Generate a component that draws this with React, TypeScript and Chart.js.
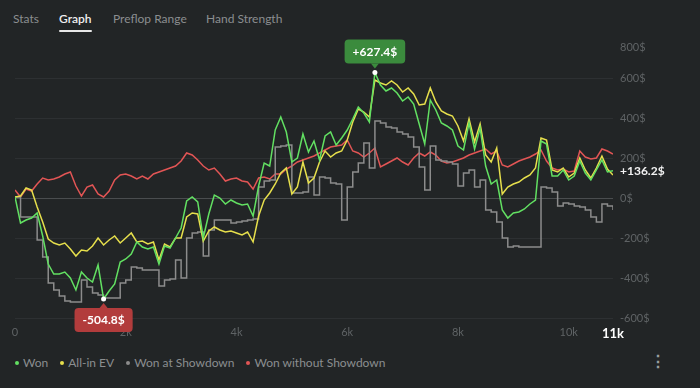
import React, { useEffect, useRef } from "react";
import { Chart, registerables } from "chart.js";

Chart.register(...registerables);

// ---- data ----
const HAND_STEP = 100; // hands between samples
const X_TICKS = [0, 2000, 4000, 6000, 8000, 10000];
const X_MAX = 10800;
const X_END_LABEL = "11k";
const Y_MIN = -600;
const Y_MAX = 800;
const Y_STEP = 200;

const TABS = ["Stats", "Graph", "Preflop Range", "Hand Strength"];
const SERIES_NAMES = ["Won", "All-in EV", "Won at Showdown", "Won without Showdown"];
const SERIES_COLORS = ["#62e062", "#e6df4c", "#8c8c8c", "#e25555"];

const won = [
  5, -125, -110, -100, -75, -190, -330, -380, -380, -370,
  -400, -460, -370, -400, -420, -335, -504.8, -465, -430, -320,
  -305, -280, -220, -245, -255, -245, -330, -240, -250, -200,
  -150, -15, 5, -20, -200, -80, 15, 0, -30, -10,
  -25, -35, -30, -90, 60, 175, 160, 340, 405, 330,
  180, 200, 320, 230, 285, 190, 310, 330, 265, 300,
  340, 395, 455, 425, 380, 627.4, 565, 535, 550, 525,
  485, 505, 470, 370, 270, 490, 440, 375, 360, 340,
  260, 240, 375, 245, 350, 160, 70, 90, -60, -100,
  -75, -70, -55, -30, -10, 285, 270, 110, 110, 140,
  90, 110, 185, 125, 90, 140, 190, 130, 136.2,
];

const allInEV = [
  5, 10, 50, 40, -45, -120, -205, -225, -235, -225,
  -255, -290, -260, -265, -240, -200, -235, -210, -190, -225,
  -200, -175, -220, -215, -230, -220, -310, -230, -245, -200,
  -200, -95, -75, -80, -215, -165, -145, -160, -170, -165,
  -175, -185, -170, -220, -90, -10, 25, 70, 125, 150,
  20, 55, 180, 75, 100, 180, 235, 205, 225, 235,
  290, 380, 445, 430, 405, 590, 575, 565, 585, 565,
  530, 550, 520, 465, 470, 550, 480, 435, 420, 410,
  360, 285, 395, 280, 370, 215, 180, 250, 20, 55,
  70, 80, 100, 115, 150, 300, 290, 140, 130, 150,
  105, 125, 200, 140, 100, 150, 210, 145, 115,
];

const wonAtShowdown = [
  5, -95, -95, -95, -210, -295, -425, -460, -490, -515,
  -520, -520, -410, -445, -475, -485, -500, -500, -500, -425,
  -410, -345, -350, -360, -360, -360, -440, -410, -405, -310,
  -400, -200, -175, -170, -290, -160, -110, -110, -110, -125,
  -120, -115, -110, -105, 55, 85, 90, 255, 260, 265,
  25, 25, 30, 105, 15, 105, 100, 75, 70, -110,
  55, 130, 175, 275, 150, 385, 375, 355, 350, 330,
  320, 305, 255, 155, 40, 260, 190, 185, 180, 170,
  60, 125, 140, 55, 90, -60, -70, -120, -200, -245,
  -240, -245, -245, -245, -245, 55, 50, 30, -40, -25,
  -30, -40, -45, -60, -95, -120, -30, -40, -60,
];

const wonWithoutShowdown = [
  40, 5, 45, 35, 70, 100, 90, 95, 105, 120,
  130, 60, 10, 55, 65, 20, 5, 35, 90, 115,
  120, 110, 95, 110, 95, 120, 130, 140, 150, 160,
  185, 225, 215, 190, 160, 140, 150, 120, 85, 95,
  100, 85, 80, 45, 100, 105, 95, 120, 120, 145,
  160, 180, 190, 200, 210, 225, 240, 255, 260, 265,
  290, 235, 225, 205, 225, 250, 155, 170, 185, 200,
  180, 165, 200, 225, 210, 230, 215, 185, 175, 180,
  190, 200, 215, 225, 235, 245, 220, 235, 165, 155,
  170, 185, 195, 205, 220, 240, 185, 150, 140, 145,
  130, 135, 235, 205, 195, 200, 245, 235, 220,
];

const SERIES = [won, allInEV, wonAtShowdown, wonWithoutShowdown];

// ---- styles ----
const BG = "#222526";
const FONT = "Lato, 'Noto Sans', sans-serif";
const GRID = "#2d3032";
const ZERO = "#4a4d4f";
const AXIS_TEXT = "#5f6365";
const TAB_LEFTS = [13, 59, 113, 206];

function fmt(v: number) {
  return (v >= 0 ? "+" : "") + v.toFixed(1) + "$";
}

function roundRect(ctx: CanvasRenderingContext2D, x: number, y: number, w: number, h: number, r: number) {
  ctx.beginPath();
  ctx.moveTo(x + r, y);
  ctx.lineTo(x + w - r, y);
  ctx.quadraticCurveTo(x + w, y, x + w, y + r);
  ctx.lineTo(x + w, y + h - r);
  ctx.quadraticCurveTo(x + w, y + h, x + w - r, y + h);
  ctx.lineTo(x + r, y + h);
  ctx.quadraticCurveTo(x, y + h, x, y + h - r);
  ctx.lineTo(x, y + r);
  ctx.quadraticCurveTo(x, y, x + r, y);
  ctx.closePath();
}

const annotationPlugin = {
  id: "extremes",
  afterDraw(chart: any) {
    const ctx: CanvasRenderingContext2D = chart.ctx;
    const xs = chart.scales.x;
    const ys = chart.scales.y;
    let maxI = 0;
    let minI = 0;
    won.forEach((v, i) => {
      if (v > won[maxI]) maxI = i;
      if (v < won[minI]) minI = i;
    });
    const bubble = (i: number, color: string, above: boolean) => {
      const px = xs.getPixelForValue(i * HAND_STEP);
      const py = ys.getPixelForValue(won[i]);
      const text = fmt(won[i]);
      ctx.save();
      ctx.font = `bold 12px ${FONT}`;
      const tw = ctx.measureText(text).width;
      const w = tw + 16;
      const h = 24;
      const gap = 9;
      const by = above ? py - gap - h : py + gap;
      ctx.fillStyle = color;
      roundRect(ctx, px - w / 2, by, w, h, 4);
      ctx.fill();
      // pointer
      ctx.beginPath();
      if (above) {
        ctx.moveTo(px - 4, by + h);
        ctx.lineTo(px + 4, by + h);
        ctx.lineTo(px, by + h + 5);
      } else {
        ctx.moveTo(px - 4, by);
        ctx.lineTo(px + 4, by);
        ctx.lineTo(px, by - 5);
      }
      ctx.closePath();
      ctx.fill();
      ctx.fillStyle = "#ffffff";
      ctx.textAlign = "center";
      ctx.textBaseline = "middle";
      ctx.fillText(text, px, by + h / 2 + 0.5);
      // point
      ctx.beginPath();
      ctx.arc(px, py, 2.5, 0, Math.PI * 2);
      ctx.fill();
      ctx.restore();
    };
    bubble(maxI, "#3b8b3d", true);
    bubble(minI, "#b23c3c", false);

    // last value label on the right
    const last = won[won.length - 1];
    ctx.save();
    ctx.font = `bold 12px ${FONT}`;
    ctx.fillStyle = "#f2f2f2";
    ctx.textAlign = "left";
    ctx.textBaseline = "middle";
    ctx.fillText(fmt(last), chart.chartArea.right + 7, ys.getPixelForValue(last));
    ctx.restore();
  },
};

export default function App() {
  const canvasRef = useRef<HTMLCanvasElement | null>(null);

  useEffect(() => {
    if (!canvasRef.current) return;
    const chart = new Chart(canvasRef.current, {
      type: "line",
      data: {
        datasets: SERIES.map((arr, si) => ({
          label: SERIES_NAMES[si],
          data: arr.map((v, i) => ({ x: i * HAND_STEP, y: v })),
          borderColor: SERIES_COLORS[si],
          backgroundColor: SERIES_COLORS[si],
          borderWidth: 1.5,
          pointRadius: 0,
          tension: 0,
          stepped: si === 2 ? true : false,
        })),
      },
      options: {
        animation: false,
        responsive: true,
        maintainAspectRatio: false,
        events: [],
        layout: { padding: { left: 15, top: 38, right: 0, bottom: 0 } },
        plugins: {
          legend: { display: false },
          tooltip: { enabled: false },
        },
        scales: {
          x: {
            type: "linear",
            min: 0,
            max: X_MAX,
            grid: { display: false, drawTicks: false },
            border: { display: false },
            afterBuildTicks: (scale: any) => {
              scale.ticks = [...X_TICKS.map((v) => ({ value: v })), { value: X_MAX }];
            },
            afterFit: (scale: any) => {
              scale.height = 32;
            },
            ticks: {
              autoSkip: false,
              maxRotation: 0,
              padding: 8,
              callback: (value: any) => {
                const v = Number(value);
                if (v === X_MAX) return X_END_LABEL;
                if (v === 0) return "0";
                return v / 1000 + "k";
              },
              color: (c: any) => (c.tick && c.tick.value === X_MAX ? "#ffffff" : AXIS_TEXT),
              font: (c: any) =>
                c.tick && c.tick.value === X_MAX
                  ? { family: FONT, size: 13, weight: "bold" }
                  : { family: FONT, size: 11 },
            },
          },
          y: {
            position: "right",
            min: Y_MIN,
            max: Y_MAX,
            grid: {
              drawTicks: false,
              color: (c: any) =>
                c.tick && c.tick.value === 0 ? ZERO : c.tick && c.tick.value === Y_MAX ? "rgba(0,0,0,0)" : GRID,
              lineWidth: 1,
            },
            border: { display: false },
            afterFit: (scale: any) => {
              scale.width = 87;
            },
            ticks: {
              stepSize: Y_STEP,
              autoSkip: false,
              padding: 7,
              color: AXIS_TEXT,
              callback: (value: any) => {
                const v = Number(value);
                return v === Y_MAX ? ["", v + "$"] : v + "$";
              },
              font: (c: any) =>
                c.tick && c.tick.value === Y_MAX
                  ? { family: FONT, size: 11, lineHeight: 1.8 }
                  : { family: FONT, size: 11 },
            },
          },
        },
      },
      plugins: [annotationPlugin],
    } as any);
    return () => chart.destroy();
  }, []);

  return (
    <div
      style={{
        position: "fixed",
        left: 0,
        top: 0,
        width: 700,
        height: 388,
        background: BG,
        fontFamily: FONT,
        overflow: "hidden",
      }}
    >
      {TABS.map((t, i) => (
        <div
          key={t}
          style={{
            position: "absolute",
            left: TAB_LEFTS[i],
            top: 10,
            fontSize: 12,
            color: i === 1 ? "#f0f0f0" : "#8b8e90",
            fontWeight: i === 1 ? 600 : 400,
            lineHeight: "18px",
            whiteSpace: "nowrap",
          }}
        >
          {t}
          {i === 1 && (
            <div
              style={{
                position: "absolute",
                left: 0,
                right: 0,
                top: 20,
                height: 2,
                background: "#e8e8e8",
                borderRadius: 1,
              }}
            />
          )}
        </div>
      ))}
      <div style={{ position: "absolute", left: 0, top: 0, width: 700, height: 350 }}>
        <canvas ref={canvasRef} />
      </div>
      <div
        style={{
          position: "absolute",
          left: 15,
          top: 354,
          display: "flex",
          alignItems: "center",
          fontSize: 12,
          color: "#8b8e90",
          lineHeight: "18px",
          whiteSpace: "nowrap",
        }}
      >
        {SERIES_NAMES.map((n, i) => (
          <div key={n} style={{ display: "flex", alignItems: "center", marginRight: 12 }}>
            <span
              style={{
                display: "inline-block",
                width: 4,
                height: 4,
                borderRadius: "50%",
                background: SERIES_COLORS[i],
                marginRight: 4,
              }}
            />
            {n}
          </div>
        ))}
      </div>
      <div
        style={{
          position: "absolute",
          left: 650,
          top: 352,
          fontSize: 16,
          color: "#9a9d9f",
          lineHeight: "18px",
          fontWeight: 700,
        }}
      >
        ⋮
      </div>
    </div>
  );
}
